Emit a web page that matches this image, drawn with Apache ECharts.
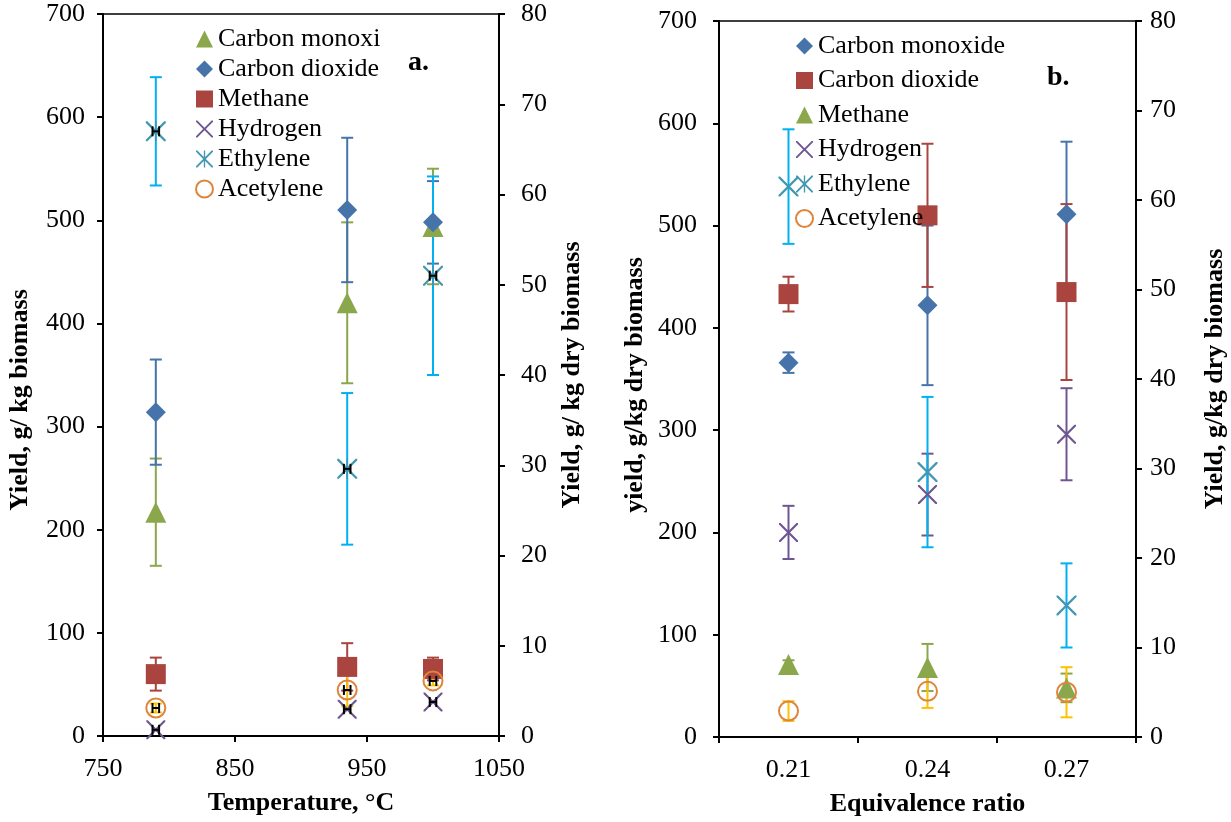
<!DOCTYPE html>
<html><head><meta charset="utf-8">
<script src="https://cdn.jsdelivr.net/npm/echarts@6/dist/echarts.min.js"></script>
<style>html,body{margin:0;padding:0;background:#fff}#c{width:1231px;height:822px}</style>
</head><body><div id="c"></div>
<script>
// ---------- Panel a: temperature ----------
const tempA = [790, 935, 1000];
const coA = [217, 420, 494];      const coAErr = [52, 78, 56];
const co2A = [314, 510, 498];     const co2AErr = [51, 70, 40];
const ch4A = [60, 67, 65];        const ch4AErr = [16, 23, 11];
const h2A = [6, 26, 33];
const c2h4A = [67, 29.6, 51];     const c2h4AErr = [6, 8.4, 11];
const c2h2A = [3.1, 5.1, 6.1];    const c2h2AErr = [0.5, 1.8, 0.5];
const tempAErr = [2.5, 2.5, 2.5];
const xTicksA = [750, 1050, 100];
// ---------- Panel b: equivalence ratio ----------
const ratioB = ['0.21', '0.24', '0.27'];
const coB = [366, 422, 511];      const coBErr = [10, 78, 71];
const co2B = [433, 510, 435];     const co2BErr = [17, 70, 86];
const ch4B = [71, 68, 48];        const ch4BErr = [4, 23, 14];
const h2B = [200, 237, 296];      const h2BErr = [26, 40, 45];
const c2h4B = [61.5, 29.6, 14.7]; const c2h4BErr = [6.4, 8.4, 4.7];
const c2h2B = [2.9, 5.1, 5.0];    const c2h2BErr = [1.1, 1.85, 2.8];

const namesA = ['Carbon monoxi', 'Carbon dioxide', 'Methane', 'Hydrogen', 'Ethylene', 'Acetylene'];
const namesB = ['Carbon monoxide', 'Carbon dioxide', 'Methane', 'Hydrogen', 'Ethylene', 'Acetylene'];

const FONT = 'Liberation Serif, Times New Roman, serif';
const C = {
  green: '#8AA74C', blue: '#4674AA', red: '#A9443F', purple: '#6E5692',
  teal: '#4397B0', orange: '#DE843B', cyan: '#00B0F0', yellow: '#FFC000'
};
const X_PATH = 'path://M0,0 L1.6,0 L10,8.4 L18.4,0 L20,0 L20,1.6 L11.6,10 L20,18.4 L20,20 L18.4,20 L10,11.6 L1.6,20 L0,20 L0,18.4 L8.4,10 L0,1.6 Z';
const STAR_PATH = 'path://M0,0 L1.6,0 L10,8.4 L18.4,0 L20,0 L20,1.6 L11.6,10 L20,18.4 L20,20 L18.4,20 L10,11.6 L1.6,20 L0,20 L0,18.4 L8.4,10 L0,1.6 Z M9.2,0 L10.8,0 L10.8,20 L9.2,20 Z';

function errSeries(xs, ys, errs, color, xi, yi) {
  return {
    type: 'custom', xAxisIndex: xi, yAxisIndex: yi, silent: true, z: 2,
    data: xs.map((x, i) => [x, ys[i] - errs[i], ys[i] + errs[i]]),
    renderItem: function (params, api) {
      const lo = api.coord([api.value(0), api.value(1)]);
      const hi = api.coord([api.value(0), api.value(2)]);
      const w = 6, st = { stroke: color, lineWidth: 2 };
      return { type: 'group', children: [
        { type: 'line', shape: { x1: lo[0], y1: lo[1], x2: hi[0], y2: hi[1] }, style: st },
        { type: 'line', shape: { x1: lo[0] - w, y1: lo[1], x2: lo[0] + w, y2: lo[1] }, style: st },
        { type: 'line', shape: { x1: hi[0] - w, y1: hi[1], x2: hi[0] + w, y2: hi[1] }, style: st }
      ]};
    }
  };
}
function xErrSeries(xs, ys, errs, xi, yi) {
  return {
    type: 'custom', xAxisIndex: xi, yAxisIndex: yi, silent: true, z: 4,
    data: xs.map((x, i) => [x - errs[i], x + errs[i], ys[i]]),
    renderItem: function (params, api) {
      const l = api.coord([api.value(0), api.value(2)]);
      const r = api.coord([api.value(1), api.value(2)]);
      const h = 5, st = { stroke: '#000', lineWidth: 2 };
      return { type: 'group', children: [
        { type: 'line', shape: { x1: l[0], y1: l[1], x2: r[0], y2: r[1] }, style: st },
        { type: 'line', shape: { x1: l[0], y1: l[1] - h, x2: l[0], y2: l[1] + h }, style: st },
        { type: 'line', shape: { x1: r[0], y1: r[1] - h, x2: r[0], y2: r[1] + h }, style: st }
      ]};
    }
  };
}
function scat(name, xs, ys, symbol, size, style, xi, yi) {
  return {
    type: 'scatter', name: name, xAxisIndex: xi, yAxisIndex: yi, z: 3,
    symbol: symbol, symbolSize: size, itemStyle: Object.assign({ opacity: 1 }, style),
    emphasis: { disabled: true },
    data: xs.map((x, i) => [x, ys[i]])
  };
}
const ringStyle = { color: 'rgba(0,0,0,0)', borderColor: C.orange, borderWidth: 2 };

const series = [
  // panel a
  errSeries(tempA, coA, coAErr, C.green, 0, 0),
  scat(namesA[0], tempA, coA, 'triangle', 21, { color: C.green }, 0, 0),
  errSeries(tempA, co2A, co2AErr, C.blue, 0, 0),
  scat(namesA[1], tempA, co2A, 'diamond', 20, { color: C.blue }, 0, 0),
  errSeries(tempA, ch4A, ch4AErr, C.red, 0, 0),
  scat(namesA[2], tempA, ch4A, 'rect', 20, { color: C.red }, 0, 0),
  scat(namesA[3], tempA, h2A, X_PATH, 19, { color: C.purple }, 0, 0),
  errSeries(tempA, c2h4A, c2h4AErr, C.cyan, 0, 1),
  scat(namesA[4], tempA, c2h4A, STAR_PATH, 20, { color: C.teal }, 0, 1),
  errSeries(tempA, c2h2A, c2h2AErr, C.yellow, 0, 1),
  scat(namesA[5], tempA, c2h2A, 'circle', 19, ringStyle, 0, 1),
  xErrSeries(tempA, c2h2A, tempAErr, 0, 1),
  xErrSeries(tempA, h2A, tempAErr, 0, 0),
  xErrSeries(tempA, c2h4A, tempAErr, 0, 1),
  // panel b
  errSeries(ratioB, coB, coBErr, C.blue, 1, 2),
  scat(namesB[0], ratioB, coB, 'diamond', 20, { color: C.blue }, 1, 2),
  errSeries(ratioB, co2B, co2BErr, C.red, 1, 2),
  scat(namesB[1], ratioB, co2B, 'rect', 20, { color: C.red }, 1, 2),
  errSeries(ratioB, ch4B, ch4BErr, C.green, 1, 2),
  scat(namesB[2], ratioB, ch4B, 'triangle', 21, { color: C.green }, 1, 2),
  errSeries(ratioB, h2B, h2BErr, C.purple, 1, 2),
  scat(namesB[3], ratioB, h2B, X_PATH, 19, { color: C.purple }, 1, 2),
  errSeries(ratioB, c2h4B, c2h4BErr, C.cyan, 1, 3),
  scat(namesB[4], ratioB, c2h4B, X_PATH, 20, { color: C.teal }, 1, 3),
  scat(namesB[5], ratioB, c2h2B, 'circle', 19, ringStyle, 1, 3),
  errSeries(ratioB, c2h2B, c2h2BErr, C.yellow, 1, 3)
];

const axisLine = { show: true, lineStyle: { color: '#000', width: 2 } };
const axisTick = { show: true, length: 6, inside: false, lineStyle: { color: '#000', width: 2 } };
const lbl = (m) => ({ color: '#000', fontFamily: FONT, fontSize: 26, margin: m });
const nameStyle = { color: '#000', fontFamily: FONT, fontSize: 26, fontWeight: 'bold' };

function yAx(grid, pos, max, interval, name, gap, margin, shift) {
  return {
    type: 'value', gridIndex: grid, position: pos, min: 0, max: max, interval: interval,
    axisLine: axisLine, axisTick: axisTick, splitLine: { show: false },
    axisLabel: lbl(margin), name: name, nameLocation: 'middle', nameGap: gap,
    nameRotate: 90, nameTextStyle: Object.assign({ padding: [0, shift || 0, 0, 0] }, nameStyle)
  };
}

const legendText = { color: '#000', fontFamily: FONT, fontSize: 26, lineHeight: 26 };
const legA = [
  { name: namesA[0], icon: 'triangle', itemStyle: { color: C.green } },
  { name: namesA[1], icon: 'diamond', itemStyle: { color: C.blue } },
  { name: namesA[2], icon: 'rect', itemStyle: { color: C.red } },
  { name: namesA[3], icon: X_PATH, itemStyle: { color: C.purple } },
  { name: namesA[4], icon: STAR_PATH, itemStyle: { color: C.teal } },
  { name: namesA[5], icon: 'circle', itemStyle: ringStyle }
];
const legB = [
  { name: namesB[0], icon: 'diamond', itemStyle: { color: C.blue } },
  { name: namesB[1], icon: 'rect', itemStyle: { color: C.red } },
  { name: namesB[2], icon: 'triangle', itemStyle: { color: C.green } },
  { name: namesB[3], icon: X_PATH, itemStyle: { color: C.purple } },
  { name: namesB[4], icon: STAR_PATH, itemStyle: { color: C.teal } },
  { name: namesB[5], icon: 'circle', itemStyle: ringStyle }
];

const option = {
  backgroundColor: '#fff',
  animation: false,
  title: [
    { text: 'a.', left: 403, top: 44, textStyle: { fontFamily: FONT, fontSize: 28, fontWeight: 'bold', color: '#000' } },
    { text: 'b.', left: 1042, top: 59, textStyle: { fontFamily: FONT, fontSize: 28, fontWeight: 'bold', color: '#000' } }
  ],
  grid: [
    { left: 103, top: 14, right: 732, bottom: 86, show: true, borderColor: '#000', borderWidth: 1.5, backgroundColor: 'transparent' },
    { left: 719, top: 21, right: 95, bottom: 83, show: true, borderColor: '#000', borderWidth: 1.5, backgroundColor: 'transparent' }
  ],
  legend: [
    { orient: 'vertical', left: 195, top: 26, itemWidth: 17, itemHeight: 17, itemGap: 4, padding: 0,
      selectedMode: false, textStyle: legendText, data: legA },
    { orient: 'vertical', left: 795, top: 33, itemWidth: 17, itemHeight: 17, itemGap: 8.5, padding: 0,
      selectedMode: false, textStyle: legendText, data: legB }
  ],
  xAxis: [
    { type: 'value', gridIndex: 0, min: xTicksA[0], max: xTicksA[1], interval: xTicksA[2],
      axisLine: axisLine, axisTick: axisTick, splitLine: { show: false },
      axisLabel: Object.assign({ formatter: (v) => String(v) }, lbl(20)),
      name: 'Temperature, °C', nameLocation: 'middle', nameGap: 54, nameTextStyle: nameStyle },
    { type: 'category', gridIndex: 1, data: ratioB, boundaryGap: true,
      axisLine: axisLine, axisTick: axisTick, splitLine: { show: false }, axisLabel: lbl(20),
      name: 'Equivalence ratio', nameLocation: 'middle', nameGap: 54, nameTextStyle: nameStyle }
  ],
  yAxis: [
    yAx(0, 'left', 700, 100, 'Yield, g/ kg biomass', 70, 18, 50),
    yAx(0, 'right', 80, 10, 'Yield, g/ kg dry biomass', 60, 22, 0),
    yAx(1, 'left', 700, 100, 'yield, g/kg dry biomass', 71, 22, 12),
    yAx(1, 'right', 80, 10, 'Yield, g/kg dry biomass', 66, 14, 0)
  ],
  series: series
};
const chart = echarts.init(document.getElementById('c'), null, { renderer: 'canvas' });
chart.setOption(option);
</script></body></html>
